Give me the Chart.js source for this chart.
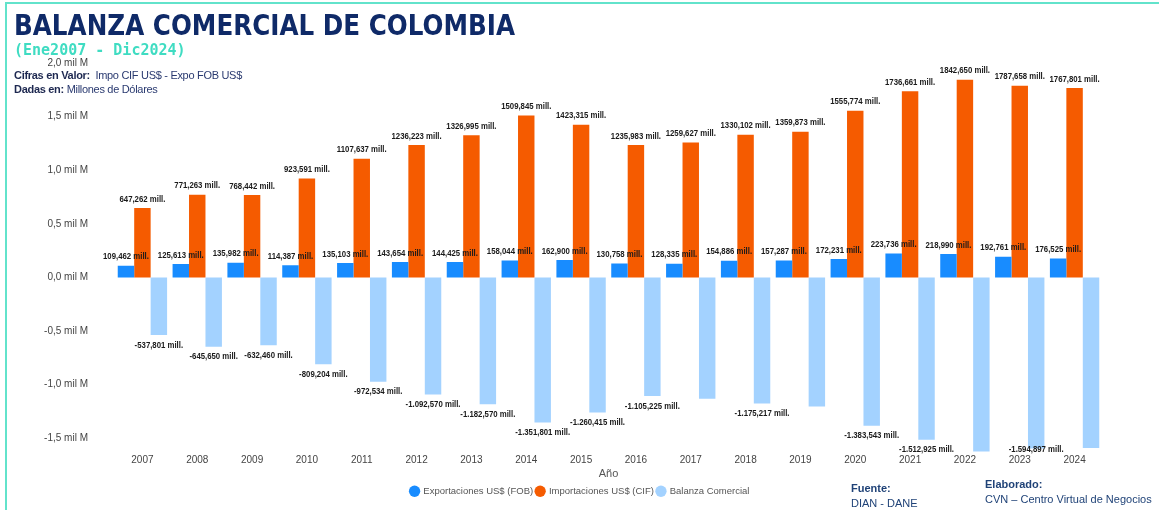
<!DOCTYPE html>
<html lang="es">
<head>
<meta charset="UTF-8">
<title>Balanza Comercial de Colombia</title>
<style>
    body {
        margin: 0;
        background: #fff;
        font-family: 'Liberation Sans', Arial, sans-serif;
    }
    .marco {
        position: relative;
        width: 1159px;
        height: 510px;
        overflow: hidden;
    }
    .borde-sup { position: absolute; left: 5px; top: 2px; width: 1154px; height: 2px; background: #62e3cb; }
    .borde-izq { position: absolute; left: 5px; top: 2px; width: 2px; height: 508px; background: #62e3cb; }
    #grafico { position: absolute; left: 0; top: 0; }
    .titulo {
        position: absolute; left: 14px; top: 8px;
        font: bold 29px 'DejaVu Sans', sans-serif;
        color: #0f2a68;
        white-space: nowrap;
        transform: scaleX(0.85);
        transform-origin: left top;
    }
    .subtitulo {
        position: absolute; left: 14px; top: 41px;
        font: bold 15px 'DejaVu Sans Mono', monospace;
        color: #3fdcc2;
        white-space: nowrap;
    }
    .nota {
        position: absolute; left: 14px;
        font: 11px 'Liberation Sans', Arial, sans-serif;
        letter-spacing: -0.3px;
        color: #2a3a70;
        white-space: nowrap;
    }
    .nota b { color: #1d2850; }
    .pie {
        position: absolute;
        font: 11px 'Liberation Sans', Arial, sans-serif;
        color: #1f4277;
        white-space: nowrap;
        line-height: 15px;
    }
    .pie b { font-weight: bold; }
</style>
</head>
<body>
<div class="marco">
    <canvas id="grafico" width="1159" height="510"></canvas>
    <div class="borde-sup"></div>
    <div class="borde-izq"></div>
    <div class="titulo">BALANZA COMERCIAL DE COLOMBIA</div>
    <div class="subtitulo">(Ene2007 - Dic2024)</div>
    <div class="nota" style="top:69px"><b>Cifras en Valor:</b>&nbsp; Impo CIF US$ - Expo FOB US$</div>
    <div class="nota" style="top:83px"><b>Dadas en:</b> Millones de Dólares</div>
    <div class="pie" style="left:851px; top:481px"><b>Fuente:</b><br>DIAN - DANE</div>
    <div class="pie" style="left:985px; top:477px"><b>Elaborado:</b><br>CVN – Centro Virtual de Negocios</div>
</div>

<script src="https://cdn.jsdelivr.net/npm/chart.js"></script>
<script>
    // Datos (millones de dólares, como aparecen en las etiquetas)
    const anios = ['2007', '2008', '2009', '2010', '2011', '2012', '2013', '2014', '2015',
                   '2016', '2017', '2018', '2019', '2020', '2021', '2022', '2023', '2024'];
    const exportaciones = [109.462, 125.613, 135.982, 114.387, 135.103, 143.654, 144.425, 158.044, 162.900,
                           130.758, 128.335, 154.886, 157.287, 172.231, 223.736, 218.990, 192.761, 176.525];
    const importaciones = [647.262, 771.263, 768.442, 923.591, 1107.637, 1236.223, 1326.995, 1509.845, 1423.315,
                           1235.983, 1259.627, 1330.102, 1359.873, 1555.774, 1736.661, 1842.650, 1787.658, 1767.801];
    const balanza = [-537.801, -645.650, -632.460, -809.204, -972.534, -1092.570, -1182.570, -1351.801, -1260.415,
                     -1105.225, -1131.292, -1175.217, -1202.586, -1383.543, -1512.925, -1623.660, -1594.897, -1591.276];
    // años cuya etiqueta de balanza no aparece en el original
    const balanzaSinEtiqueta = ['2017', '2019', '2022', '2024'];
    const ticksEjeY = [-1500, -1000, -500, 0, 500, 1000, 1500, 2000];

    // formato "1.092,570 mill."
    function formatoMill(v, miles) {
        const neg = v < 0;
        let [ent, dec] = Math.abs(v).toFixed(3).split('.');
        if (miles) ent = ent.replace(/\B(?=(\d{3})+(?!\d))/g, '.');
        return (neg ? '-' : '') + ent + ',' + dec + ' mill.';
    }

    // texto comprimido a lo ancho (la fuente original es estrecha)
    function textoEstrecho(ctx, txt, x, y) {
        ctx.save();
        ctx.translate(x, y);
        ctx.scale(0.82, 1);
        ctx.fillText(txt, 0, 0);
        ctx.restore();
    }

    // Plugin casero para las etiquetas de datos
    const etiquetasDatos = {
        id: 'etiquetasDatos',
        afterDatasetsDraw(chart) {
            const ctx = chart.ctx;
            const area = chart.chartArea;
            ctx.save();
            ctx.font = 'bold 9.5px "Liberation Sans", Arial, sans-serif';
            ctx.fillStyle = '#1a1a1a';
            ctx.textAlign = 'center';
            ctx.textBaseline = 'middle';
            chart.data.datasets.forEach((ds, i) => {
                chart.getDatasetMeta(i).data.forEach((bar, j) => {
                    const v = ds.data[j];
                    if (i === 2) {
                        if (balanzaSinEtiqueta.includes(anios[j])) return;
                        const y = Math.min(bar.y + 10, area.bottom - 4);
                        textoEstrecho(ctx, formatoMill(v, true), bar.x, y);
                    } else {
                        textoEstrecho(ctx, formatoMill(v, false), bar.x, bar.y - 9);
                    }
                });
            });
            ctx.restore();
        }
    };

    // mover la leyenda un poco a la derecha (en el original va centrada en la página)
    const moverLeyenda = {
        id: 'moverLeyenda',
        afterLayout(chart) {
            chart.legend.left += 29;
            chart.legend.right += 29;
        }
    };

    const ctx = document.getElementById('grafico').getContext('2d');
    const grafico = new Chart(ctx, {
        type: 'bar',
        data: {
            labels: anios,
            datasets: [
                { label: 'Exportaciones US$ (FOB)', data: exportaciones, backgroundColor: '#188cff' },
                { label: 'Importaciones US$ (CIF)', data: importaciones, backgroundColor: '#f55b00' },
                { label: 'Balanza Comercial', data: balanza, backgroundColor: '#a3d2ff' }
            ]
        },
        options: {
            responsive: false,
            animation: false,
            layout: { padding: { top: 63, right: 57, bottom: 4, left: 0 } },
            datasets: {
                bar: { categoryPercentage: 0.9, barPercentage: 1.0 }
            },
            scales: {
                x: {
                    grid: { display: false, drawTicks: false },
                    border: { display: false },
                    ticks: { color: '#444', font: { size: 10, family: 'Liberation Sans' }, padding: 1, maxRotation: 0 },
                    title: {
                        display: true, text: 'Año', color: '#555',
                        font: { size: 11, family: 'Liberation Sans' }, padding: { top: 0, bottom: 3 }
                    }
                },
                y: {
                    min: -1640,
                    max: 2000,
                    grid: { display: false, drawTicks: false },
                    border: { display: false },
                    afterFit(scale) { scale.width = 115; },
                    afterBuildTicks(scale) { scale.ticks = ticksEjeY.map(v => ({ value: v })); },
                    ticks: {
                        color: '#444',
                        font: { size: 10, family: 'Liberation Sans' },
                        padding: 27,
                        callback: v => (v / 1000).toFixed(1).replace('.', ',') + ' mil M'
                    }
                }
            },
            plugins: {
                legend: {
                    position: 'bottom',
                    labels: {
                        usePointStyle: true, pointStyle: 'circle', boxWidth: 8, boxHeight: 8,
                        padding: 3, color: '#555',
                        font: { size: 9.5, family: 'Liberation Sans' }
                    }
                },
                tooltip: { enabled: false }
            }
        },
        plugins: [etiquetasDatos, moverLeyenda]
    });
</script>
</body>
</html>
